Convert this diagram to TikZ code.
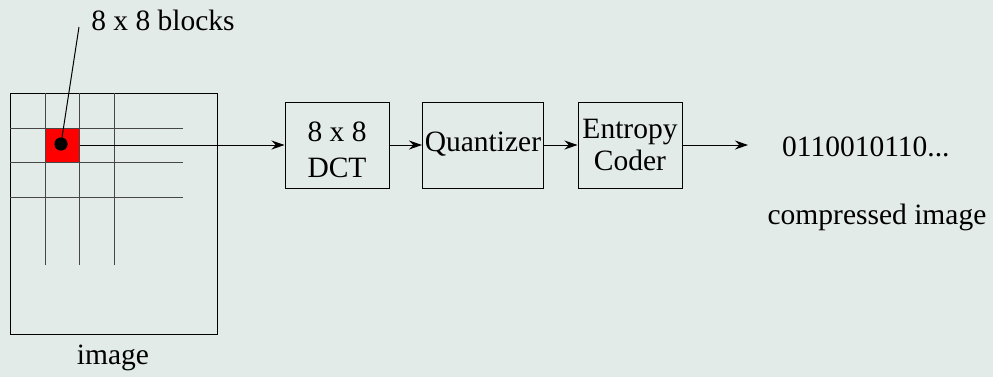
\documentclass[tikz,border=0pt]{standalone}
\usepackage{fontspec}
\newfontfamily\timesfont{Liberation Serif}
\usetikzlibrary{arrows.meta}
\definecolor{bgpale}{RGB}{227,235,232}
\definecolor{blockred}{RGB}{255,0,0}
\definecolor{gridgray}{RGB}{70,70,70}

\begin{document}
\begin{tikzpicture}[x=0.5pt,y=-0.5pt,line width=0.5pt,
  every node/.style={font=\timesfont\fontsize{14.75}{15.5}\selectfont},
  box/.style={draw,inner sep=0pt,minimum height=43pt,align=center},
  >={Stealth[length=6.5pt,width=4.5pt]}]
  \fill[bgpale] (0,0) rectangle (993,377);
  \useasboundingbox (0,0) rectangle (993,377);

  % the image with its 8 x 8 blocks
  \node[fill=blockred,inner sep=0pt,minimum size=17pt] (blk) at (62,145) {};
  \draw (10,93) rectangle (217,334);
  \foreach \x in {45,79,114}
    \draw[gridgray] (\x,93) -- (\x,265);
  \foreach \y in {128,162,197}
    \draw[gridgray] (10,\y) -- (183,\y);
  \fill (61,144) circle (3.3pt);
  \coordinate (dot) at (61,144);
  \node (blocks) at (163,20) {8 x 8 blocks};
  \draw (dot) -- (79,27);
  \node (img) at (113,358) {image};

  % coding chain
  \node[box,minimum width=52pt] (dct) at (337,145) {};
  \node[align=center] (dcttxt) at ([yshift=-2.5pt]dct) {8 x 8\\[2.5pt]DCT};
  \node[box,minimum width=60.5pt,text depth=3pt] (quant) at (483,145) {Quantizer};
  \node[box,minimum width=52pt] (ent) at (630,145) {Entropy\\[0.5pt]Coder};
  \node[anchor=west] (bits) at (775,147) {0110010110...};
  \node (comp) at (877,217) {compressed image};

  \draw[->] (blk.east) -- (dct.west);
  \draw[->] (dct) -- (quant);
  \draw[->] (quant) -- (ent);
  \draw[->,shorten >=13.5pt] (ent.east) -- (bits.west |- ent.east);
\end{tikzpicture}
\end{document}
